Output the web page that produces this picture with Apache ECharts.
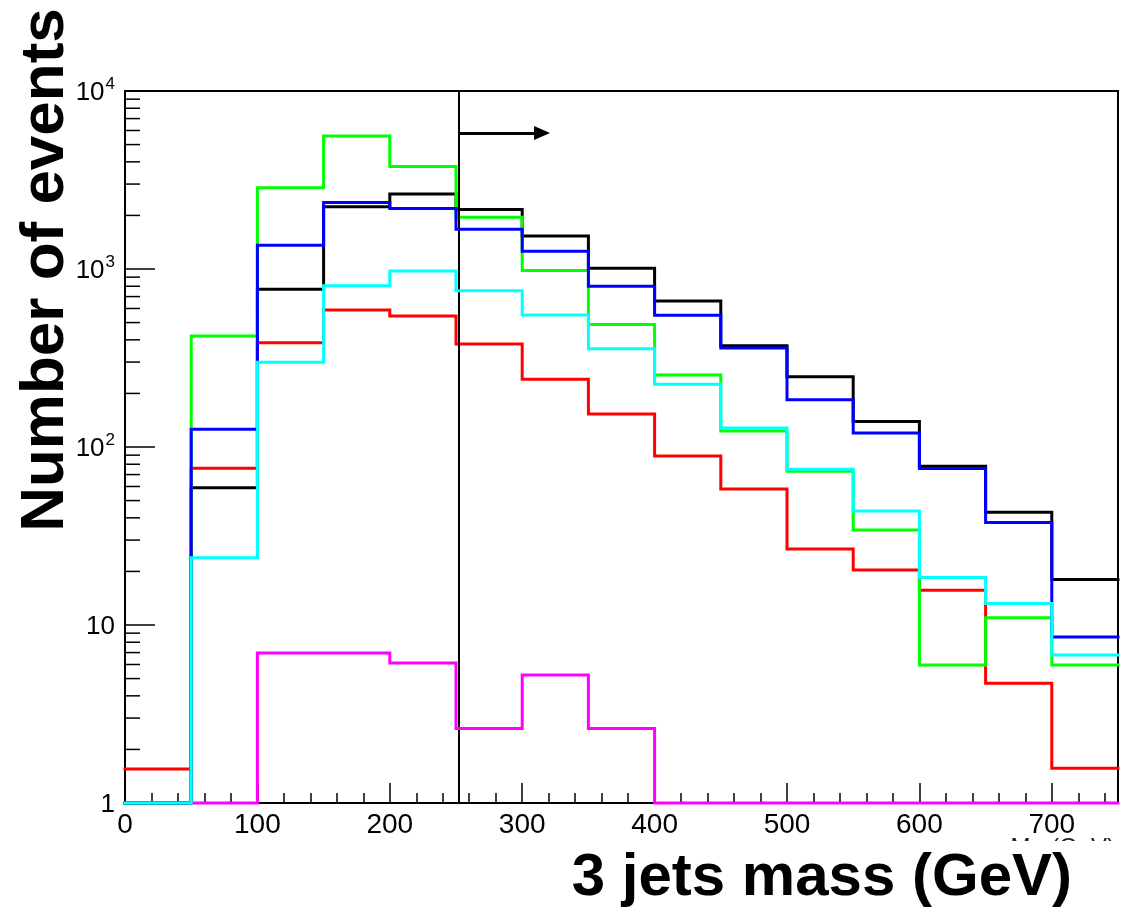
<!DOCTYPE html>
<html>
<head>
<meta charset="utf-8">
<script src="https://cdn.jsdelivr.net/npm/echarts@6/dist/echarts.min.js"></script>
<style>
html,body{margin:0;padding:0;background:#fff;}
#chart{width:1135px;height:922px;}
</style>
</head>
<body>
<div id="chart"></div>
<script>
// Bin edges (GeV) of the 3-jet mass histograms
const binEdges = [0, 50, 100, 150, 200, 250, 300, 350, 400, 450, 500, 550, 600, 650, 700, 750];
// Bin contents (events); value 1 = empty bin drawn on the bottom of the log axis
const blackVals   = [1, 59, 770, 2240, 2640, 2160, 1530, 1010, 660, 370, 248, 139, 78, 43, 18];
const redVals     = [1.55, 76, 385, 588, 544, 379, 240, 153, 89, 58, 26.7, 20.4, 15.7, 4.7, 1.57];
const greenVals   = [1, 421, 2860, 5590, 3760, 1950, 980, 487, 254, 123, 73, 34.2, 5.96, 11.0, 5.96];
const blueVals    = [1, 126, 1360, 2360, 2190, 1670, 1260, 800, 549, 360, 184, 120, 75.7, 37.6, 8.56];
const cyanVals    = [1, 23.9, 299, 806, 975, 755, 552, 357, 225, 128, 75, 43.7, 18.5, 13.2, 6.78];
const magentaVals = [null, 1, 6.96, 6.96, 6.12, 2.62, 5.24, 2.62, 1, 1, 1, 1, 1, 1, 1];
// Y axis decades and the cut annotation
const yDecades = [1, 10, 100, 1000, 10000];
const cutValue = 252;
const arrowEnd = 315;
const arrowLevel = 5800;

const FONT = '"Liberation Sans", Arial, Helvetica, sans-serif';

function histData(vals) {
  const pts = [];
  for (let i = 0; i < vals.length; i++) {
    if (vals[i] === null) continue;
    pts.push([binEdges[i], vals[i]]);
  }
  pts.push([binEdges[binEdges.length - 1], vals[vals.length - 1]]);
  return pts;
}

// minor tick positions 2..9 x 10^k
const minorTickVals = [];
for (let k = 0; k < yDecades.length - 1; k++) {
  for (let m = 2; m <= 9; m++) minorTickVals.push([0, m * yDecades[k]]);
}

function hist(name, vals, color, z) {
  return {
    name: name, type: 'line', step: 'end', data: histData(vals),
    showSymbol: false, symbol: 'none', clip: false, z: z,
    lineStyle: {color: color, width: 3, join: 'miter', cap: 'square'},
    itemStyle: {color: color},
    animation: false
  };
}

const chart = echarts.init(document.getElementById('chart'), null, {renderer: 'canvas'});
chart.setOption({
  animation: false,
  backgroundColor: '#fff',
  grid: {left: 125, right: 17, top: 91, bottom: 119, show: true, borderColor: '#000', borderWidth: 2, backgroundColor: 'transparent'},
  xAxis: [{
    type: 'value', min: 0, max: 750, interval: 100,
    axisLine: {show: true, lineStyle: {color: '#000', width: 2}},
    axisTick: {show: true, inside: true, length: 20, lineStyle: {color: '#000', width: 1.5}},
    splitLine: {show: false},
    axisLabel: {
      color: '#000', fontSize: 28, fontFamily: FONT, margin: 8,
      formatter: function (v) { return v === 750 ? '' : String(v); }
    }
  }, {
    type: 'value', min: 0, max: 750, interval: 20, position: 'bottom',
    axisLine: {show: false},
    axisTick: {show: true, inside: true, length: 10, lineStyle: {color: '#000', width: 1.5}},
    axisLabel: {show: false}, splitLine: {show: false}
  }],
  yAxis: {
    type: 'log', logBase: 10, min: 1, max: 10000,
    axisLine: {show: true, lineStyle: {color: '#000', width: 2}},
    axisTick: {show: true, inside: true, length: 30, lineStyle: {color: '#000', width: 1.5}},
    splitLine: {show: false},
    axisLabel: {
      color: '#000', fontFamily: FONT, margin: 10,
      formatter: function (v) {
        const e = Math.round(Math.log10(v));
        if (e <= 1) return '{b|' + Math.round(v) + '}';
        return '{b|10}{s|' + e + '}';
      },
      rich: {
        b: {fontSize: 26, fontFamily: FONT, color: '#000', lineHeight: 30, verticalAlign: 'bottom'},
        s: {fontSize: 17, fontFamily: FONT, color: '#000', lineHeight: 30, verticalAlign: 'top', padding: [0, 0, 8, 1]}
      }
    }
  },
  series: [
    hist('black', blackVals, '#000000', 2),
    hist('red', redVals, '#ff0000', 3),
    hist('green', greenVals, '#00ff00', 4),
    hist('blue', blueVals, '#0000ff', 5),
    hist('magenta', magentaVals, '#ff00ff', 6),
    hist('cyan', cyanVals, '#00ffff', 7),
    {
      name: 'minorTicks', type: 'custom', data: minorTickVals, clip: false, z: 8, silent: true,
      renderItem: function (params, api) {
        const p = api.coord([0, api.value(1)]);
        return {type: 'line', shape: {x1: p[0], y1: p[1], x2: p[0] + 15, y2: p[1]},
                style: {stroke: '#000', lineWidth: 1.5}};
      }
    },
    {
      name: 'cut', type: 'line', data: [], z: 10, silent: true,
      markLine: {
        silent: true, animation: false, symbol: ['none', 'none'],
        label: {show: false},
        lineStyle: {color: '#000', width: 2, type: 'solid'},
        data: [{xAxis: cutValue}]
      }
    },
    {
      name: 'arrow', type: 'line', data: [], z: 10, silent: true,
      markLine: {
        silent: true, animation: false, symbol: ['none', 'triangle'], symbolSize: [14, 16],
        label: {show: false},
        lineStyle: {color: '#000', width: 3, type: 'solid'},
        itemStyle: {color: '#000'},
        data: [[{coord: [cutValue, arrowLevel]}, {coord: [arrowEnd, arrowLevel]}]]
      }
    }
  ],
  graphic: [
    {type: 'text', x: 1115, y: 836, z: 1,
     style: {text: 'M₃ⱼ (GeV)', font: '24px ' + FONT, fill: '#222', textAlign: 'right', textVerticalAlign: 'top', verticalAlign: 'top'}},
    {type: 'rect', shape: {x: 540, y: 841, width: 595, height: 81}, z: 2,
     style: {fill: '#fff'}},
    {type: 'text', x: 1072, y: 878, z: 3,
     style: {text: '3 jets mass (GeV)', font: 'bold 60px ' + FONT, fill: '#000', textAlign: 'right', textVerticalAlign: 'middle', verticalAlign: 'middle'}},
    {type: 'text', x: 46, y: 270, rotation: Math.PI / 2, z: 3,
     style: {text: 'Number of events', font: 'bold 62px ' + FONT, fill: '#000', textAlign: 'center', textVerticalAlign: 'middle', verticalAlign: 'middle'}}
  ]
});
</script>
</body>
</html>
